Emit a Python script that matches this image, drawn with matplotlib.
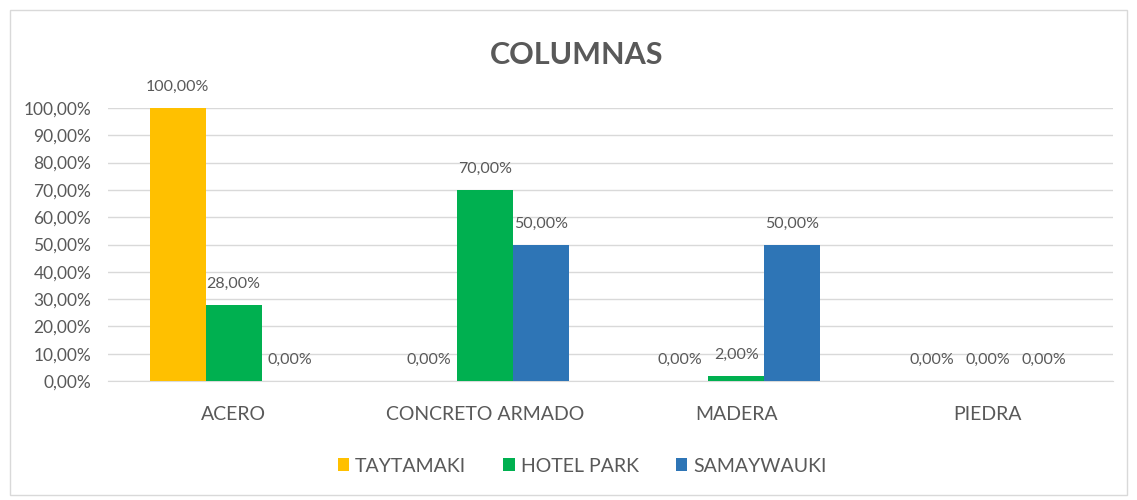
import numpy as np
import matplotlib
matplotlib.use("Agg")
import matplotlib.pyplot as plt
from matplotlib.patches import Rectangle

plt.rcParams['font.family'] = ['Lato', 'DejaVu Sans']

categories = ["ACERO", "CONCRETO ARMADO", "MADERA", "PIEDRA"]
series_names = ["TAYTAMAKI", "HOTEL PARK", "SAMAYWAUKI"]
taytamaki = [100.0, 0.0, 0.0, 0.0]
hotel_park = [28.0, 70.0, 2.0, 0.0]
samaywauki = [0.0, 50.0, 50.0, 0.0]
colors = ["#FFC000", "#00B050", "#2E75B6"]

def pct(v):
    return ("%.2f%%" % v).replace(".", ",")

fig = plt.figure(figsize=(11.37, 5.0), dpi=100)
fig.patches.append(Rectangle((0.009, 0.01), 0.982, 0.97, transform=fig.transFigure,
                             fill=False, edgecolor="#D9D9D9", linewidth=1))
ax = fig.add_axes([0.095, 0.238, 0.884, 0.546])

x = np.arange(len(categories))
w = 0.223
gray = "#595959"
for i, (vals, name) in enumerate(zip([taytamaki, hotel_park, samaywauki], series_names)):
    pos = x + (i - 1) * w
    bars = ax.bar(pos, vals, w, color=colors[i], label=name, zorder=3)
    for b, v in zip(bars, vals):
        ax.annotate(pct(v), (b.get_x() + b.get_width() / 2, v), xytext=(0, 10),
                    textcoords="offset points", ha="center", va="bottom",
                    fontsize=11.5, color=gray)

ax.set_xlim(-0.5, len(categories) - 0.5)
ax.set_ylim(0, 100)
ax.set_yticks(np.arange(0, 101, 10))
ax.set_yticklabels([pct(v) for v in np.arange(0, 101, 10)], fontsize=12.5, color=gray)
ax.set_xticks(x)
ax.set_xticklabels(categories, fontsize=14, color=gray)
ax.tick_params(axis="both", length=0)
ax.tick_params(axis="x", pad=18)
ax.tick_params(axis="y", pad=12)
ax.grid(axis="y", color="#D9D9D9", linewidth=1, zorder=0)
for s in ["top", "right", "left"]:
    ax.spines[s].set_visible(False)
ax.spines["bottom"].set_color("#D9D9D9")

fig.text(0.507, 0.89, "COLUMNAS", ha="center", va="center", fontsize=22,
         fontweight="bold", color=gray)

fig.legend(loc="center", bbox_to_anchor=(0.512, 0.068), ncol=3, frameon=False,
           fontsize=14, handlelength=0.6, handleheight=0.6, columnspacing=1.9,
           handletextpad=0.3, labelcolor=gray)

fig.savefig("out.png", dpi=100)
